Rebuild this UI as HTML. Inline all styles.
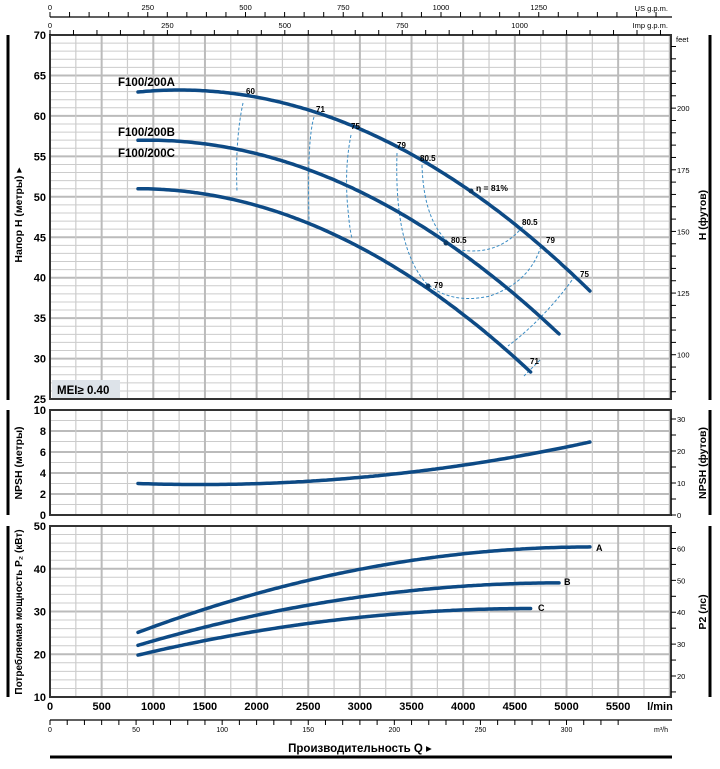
<!DOCTYPE html>
<html><head><meta charset="utf-8"><style>
html,body{margin:0;padding:0;background:#fff}
svg{display:block}
text{font-family:"Liberation Sans","DejaVu Sans",sans-serif}
</style></head><body>
<svg id="s" width="720" height="769" viewBox="0 0 720 769" xmlns="http://www.w3.org/2000/svg"></svg>
<script>
const s=document.getElementById('s');let h='';
const X=q=>50+0.1033*q, L=50,R=671;
const yH=v=>35+(70-v)*8.09, yN=v=>515-v*10.5, yP=v=>526+(50-v)*4.275;
function ln(x1,y1,x2,y2,c,w,extra){h+=`<line x1="${x1}" y1="${y1}" x2="${x2}" y2="${y2}" stroke="${c}" stroke-width="${w}" ${extra||''}/>`;}
function tx(x,y,t,o){h+=`<text x="${x}" y="${y}" ${o||''}>${t}</text>`;}
function panel(t,b,hs){
  for(const [v,heavy] of hs) ln(L,v,R,v,heavy?'#bbb':'#ccc',heavy?2:1);
  for(let q=250;X(q)<R;q+=250){const x=X(q);ln(x,t,x,b,q%500==0?'#bbb':'#ccc',q%500==0?2:1.2);}
  h+=`<rect x="${L}" y="${t}" width="${R-L}" height="${b-t}" fill="none" stroke="#333" stroke-width="2"/>`;
}
let hs=[];for(let v=26;v<70;v++)hs.push([yH(v),v%5==0]);panel(35,399,hs);
hs=[];for(let v=1;v<10;v++)hs.push([yN(v),v%2==0]);panel(410,515,hs);
hs=[];for(let v=12;v<50;v+=2)hs.push([yP(v),v%10==0]);panel(526,697,hs);
for(let v=25;v<=70;v+=5)tx(46,yH(v)+4,v,'text-anchor="end" font-size="11" font-weight="bold"');
for(let v=0;v<=10;v+=2)tx(46,yN(v)+4,v,'text-anchor="end" font-size="11" font-weight="bold"');
for(let v=10;v<=50;v+=10)tx(46,yP(v)+4,v,'text-anchor="end" font-size="11" font-weight="bold"');
for(let q=0;q<=5500;q+=500)tx(X(q),710,q,'text-anchor="middle" font-size="11" font-weight="bold"');
tx(660,710,'l/min','text-anchor="middle" font-size="11" font-weight="bold"');
ln(50,720,672,720,'#000',1.2);
for(let m=0;m<=330;m+=10){const x=X(m*1000/60);if(x>672)break;ln(x,720,x,725,'#000',1);}
for(let m=0;m<=300;m+=50)tx(X(m*1000/60),732,m,'text-anchor="middle" font-size="7"');
tx(668,732,'m³/h','text-anchor="end" font-size="7"');
tx(360,752,'Производительность Q ▸','text-anchor="middle" font-size="11.5" font-weight="bold"');
ln(50,757,672,757,'#000',3);
ln(50,17,672,17,'#000',1.2);
for(let g=0;g<=1550;g+=50){const x=X(g*3.785);if(x>672)break;ln(x,12,x,17,'#000',1);}
for(let g=0;g<=1250;g+=250)tx(X(g*3.785),10,g,'text-anchor="middle" font-size="7.5"');
tx(668,11,'US g.p.m.','text-anchor="end" font-size="7.5"');
for(let g=0;g<=1300;g+=50){const x=X(g*4.546);if(x>672)break;ln(x,30,x,35,'#000',1);}
for(let g=0;g<=1000;g+=250)tx(X(g*4.546),28,g,'text-anchor="middle" font-size="7.5"');
tx(668,28,'Imp g.p.m.','text-anchor="end" font-size="7.5"');
tx(676,42,'feet','font-size="7.5"');
for(let f=85;f<=225;f+=5){const y=yH(f*0.3048);if(y<40||y>399)continue;ln(R,y,R+5,y,'#000',1);if(f%25==0&&y>55)tx(R+6,y+3,f,'font-size="7.5"');}
for(let f=0;f<=32;f+=5){const y=yN(f*0.3048);if(y<412)continue;ln(R,y,R+5,y,'#000',1);if(f%10==0)tx(R+6,y+3,f,'font-size="7.5"');}
for(let p=15;p<=65;p+=5){const y=yP(p*0.7457);if(y<528||y>697)continue;ln(R,y,R+5,y,'#000',1);if(p%10==0)tx(R+6,y+3,p,'font-size="7.5"');}
for(const [a,b] of [[35,400],[410,515],[526,697]]){ln(8,a,8,b,'#000',3);ln(710,a,710,b,'#000',3);}
function rl(x,y,t,fs){tx(x,y,t,`text-anchor="middle" font-size="${fs}" font-weight="bold" transform="rotate(-90 ${x} ${y})"`);}
rl(22,215,'Напор H (метры) ▸',10.5);rl(22,463,'NPSH (метры)',10.5);rl(22,612,'Потребляемая мощность P₂ (кВт)',10);
rl(706,215,'H (футов)',10.5);rl(706,463,'NPSH (футов)',10.5);rl(706,612,'P2 (лс)',10.5);
h+=`<rect x="52" y="380" width="68" height="18" fill="#dde3e9"/>`;tx(57,394,'MEI≥ 0.40','font-size="11.5" font-weight="bold"');
const dd='fill="none" stroke="#3a8cc4" stroke-width="1" stroke-dasharray="3,2"';
for(const d of ['M243,103 Q235,140 237,192','M314,117 Q307,140 309,220','M351,135 Q344,170 348,210 Q350,232 352,238',
'M397,153 Q394,245 425,282 Q450,305 490,296 Q530,282 541,246','M422,165 Q424,232 460,250 Q500,256 524,225','M575,276 Q545,318 508,346','M540,360 L524,376'])
h+=`<path d="${d}" ${dd}/>`;
function curve(f,q0,q1,ymap){let p='';for(let q=q0;q<=q1;q+=25){p+=(p?'L':'M')+X(q).toFixed(1)+','+ymap(f(q)).toFixed(1);}h+=`<path d="${p}" fill="none" stroke="#0d4a85" stroke-width="3.5" stroke-linecap="round"/>`;}
curve(q=>63.2-1.571e-6*(q-1250)**2,852,5247,yH);
curve(q=>57-1.514e-6*(q-950)**2,852,4947,yH);
curve(q=>51-1.567e-6*(q-850)**2,852,4656,yH);
curve(q=>2.9+2.84e-7*(q-1450)**2,852,5247,yN);
curve(q=>45.1-1.035e-6*(q-5247)**2,852,5247,yP);
curve(q=>36.7-8.71e-7*(q-4947)**2,852,4947,yP);
curve(q=>30.7-7.53e-7*(q-4656)**2,852,4656,yP);
for(const [x,y] of [[471,191],[446,243],[428,286]])h+=`<circle cx="${x}" cy="${y}" r="2.5" fill="#0d3a66"/>`;
const lb='font-size="8" font-weight="bold"';
for(const [x,y,t] of [[246,94,'60'],[316,112,'71'],[351,129,'75'],[397,148,'79'],[420,161,'80.5'],[522,225,'80.5'],[546,243,'79'],[580,277,'75'],[451,243,'80.5'],[434,288,'79'],[530,364,'71']])tx(x,y,t,lb);
tx(476,191,'η = 81%','font-size="8.5" font-weight="bold"');
tx(118,86,'F100/200A','font-size="11.5" font-weight="bold"');
tx(118,136,'F100/200B','font-size="11.5" font-weight="bold"');
tx(118,157,'F100/200C','font-size="11.5" font-weight="bold"');
tx(596,551,'A','font-size="9" font-weight="bold"');tx(564,585,'B','font-size="9" font-weight="bold"');tx(538,611,'C','font-size="9" font-weight="bold"');
s.innerHTML=h;
</script>
</body></html>
